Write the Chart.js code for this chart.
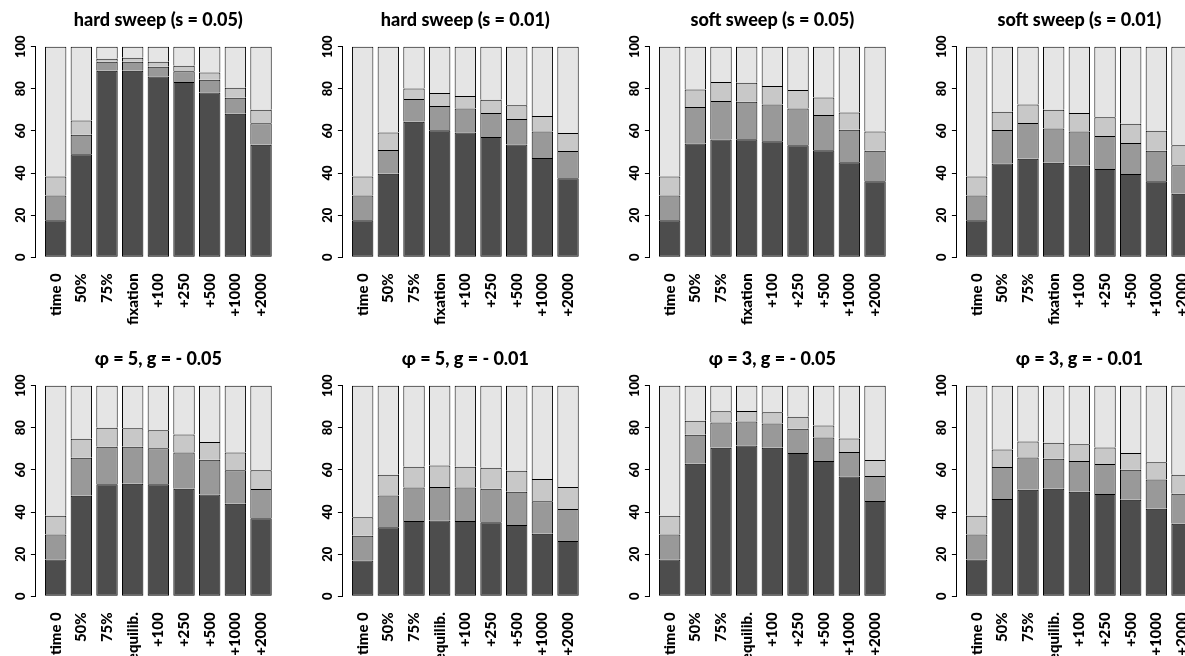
<!DOCTYPE html>
<html lang="en">
<head>
<meta charset="UTF-8">
<title>Sweep barplots</title>
<script src="https://cdn.jsdelivr.net/npm/chart.js"></script>
<style>
  html, body { margin: 0; padding: 0; background: #fff; overflow: hidden; }
  #grid { position: relative; width: 1228px; height: 678px; }
  .panel { position: absolute; width: 307px; height: 339px; }
</style>
</head>
<body>
<div id="grid"></div>
<script>
// category labels
const sweepLabels = ['time 0', '50%', '75%', 'fixation', '+100', '+250', '+500', '+1000', '+2000'];
const equilLabels = ['time 0', '50%', '75%', 'equilib.', '+100', '+250', '+500', '+1000', '+2000'];

const titles = [
  'hard sweep (s = 0.05)', 'hard sweep (s = 0.01)', 'soft sweep (s = 0.05)', 'soft sweep (s = 0.01)',
  'φ = 5, g = - 0.05', 'φ = 5, g = - 0.01', 'φ = 3, g = - 0.05', 'φ = 3, g = - 0.01'
];

const yTicks = [0, 20, 40, 60, 80, 100];

// each panel: [dark, mid, light, rest] segment heights (percent)
const hardSweep05 = [
  [17.6, 48.9, 88.6, 88.6, 85.9, 83.2, 78.3, 68.2, 53.5],
  [11.7, 9.3, 4.3, 4.3, 4.6, 5.1, 6.0, 7.6, 10.1],
  [9.1, 6.7, 1.4, 1.9, 2.4, 2.7, 3.5, 4.7, 6.5],
  [61.6, 35.1, 5.7, 5.2, 7.1, 9.0, 12.2, 19.5, 29.9]
];
const hardSweep01 = [
  [17.6, 39.7, 64.4, 60.3, 59.2, 57.1, 53.6, 47.2, 37.5],
  [11.7, 11.2, 10.8, 11.5, 11.4, 11.4, 12.1, 12.5, 13.0],
  [9.1, 8.3, 5.0, 6.2, 6.0, 6.3, 6.5, 7.4, 8.5],
  [61.6, 40.8, 19.8, 22.0, 23.4, 25.2, 27.8, 32.9, 41.0]
];
const softSweep05 = [
  [17.6, 54.0, 55.9, 56.0, 55.1, 53.2, 50.8, 45.1, 36.1],
  [11.7, 17.4, 18.3, 17.9, 17.4, 17.4, 16.8, 15.5, 14.5],
  [9.1, 8.3, 9.0, 9.0, 8.8, 8.8, 8.3, 8.2, 9.1],
  [61.6, 20.3, 16.8, 17.1, 18.7, 20.6, 24.1, 31.2, 40.3]
];
const softSweep01 = [
  [17.6, 44.5, 46.8, 44.9, 43.5, 41.9, 39.6, 36.1, 30.2],
  [11.7, 15.9, 17.0, 16.2, 16.2, 15.7, 14.7, 14.5, 13.5],
  [9.1, 8.7, 8.7, 9.0, 8.8, 8.9, 9.1, 9.5, 9.5],
  [61.6, 30.9, 27.5, 29.9, 31.5, 33.5, 36.6, 39.9, 46.8]
];
const phi5g05 = [
  [17.5, 47.8, 53.2, 53.5, 53.2, 51.1, 48.3, 44.0, 37.1],
  [11.8, 18.0, 17.8, 17.5, 17.1, 17.2, 16.5, 15.8, 13.8],
  [9.0, 9.0, 9.0, 8.8, 8.6, 8.5, 8.5, 8.5, 8.9],
  [61.7, 25.2, 20.0, 20.2, 21.1, 23.2, 26.7, 31.7, 40.2]
];
const phi5g01 = [
  [17.0, 32.8, 35.8, 36.0, 35.8, 35.2, 33.8, 29.7, 26.2],
  [11.7, 15.1, 15.9, 15.9, 15.9, 15.9, 15.9, 15.4, 15.3],
  [8.8, 9.8, 9.8, 10.2, 9.8, 9.9, 9.9, 10.6, 10.4],
  [62.5, 42.3, 38.5, 37.9, 38.5, 39.0, 40.4, 44.3, 48.1]
];
const phi3g05 = [
  [17.5, 62.9, 70.5, 71.6, 70.5, 68.1, 64.2, 56.9, 45.3],
  [11.8, 13.8, 12.0, 11.4, 11.5, 11.4, 11.2, 11.6, 11.8],
  [9.0, 6.6, 5.4, 5.0, 5.4, 5.7, 5.7, 6.4, 7.6],
  [61.7, 16.7, 12.1, 12.0, 12.6, 14.8, 18.9, 25.1, 35.3]
];
const phi3g01 = [
  [17.5, 46.2, 50.6, 51.1, 49.7, 48.6, 45.9, 41.6, 34.5],
  [11.8, 15.2, 15.3, 14.2, 14.5, 14.2, 14.2, 13.9, 14.2],
  [9.0, 8.3, 7.6, 7.6, 8.0, 7.9, 8.0, 8.1, 9.0],
  [61.7, 30.3, 26.5, 27.1, 27.8, 29.3, 31.9, 36.4, 42.3]
];

const panelValues = [hardSweep05, hardSweep01, softSweep05, softSweep01, phi5g05, phi5g01, phi3g05, phi3g01];
const segmentColors = ['#4d4d4d', '#999999', '#c8c8c8', '#e5e5e5'];

Chart.defaults.font.family = 'Lato, "Open Sans", sans-serif';
Chart.defaults.font.weight = 900;
Chart.defaults.color = '#000';

const grid = document.getElementById('grid');

panelValues.forEach((values, k) => {
  const cats = k < 4 ? sweepLabels : equilLabels;
  const box = document.createElement('div');
  box.className = 'panel';
  box.style.left = (307 * (k % 4)) + 'px';
  box.style.top = (339 * Math.floor(k / 4)) + 'px';
  const canvas = document.createElement('canvas');
  box.appendChild(canvas);
  grid.appendChild(box);

  new Chart(canvas, {
    type: 'bar',
    data: {
      labels: cats.map((_, i) => i),
      datasets: values.map((seg, j) => ({
        data: seg,
        backgroundColor: segmentColors[j],
        borderColor: '#000',
        borderWidth: 1,
        borderSkipped: j === 0 ? false : 'start',
        barPercentage: 1 / 1.2,
        categoryPercentage: 1,
        clip: false
      }))
    },
    options: {
      responsive: true,
      maintainAspectRatio: false,
      animation: false,
      events: [],
      layout: { padding: { left: 0, right: 26.2, top: 0, bottom: 0 } },
      plugins: {
        legend: { display: false },
        tooltip: { enabled: false },
        title: {
          display: true,
          text: titles[k],
          fullSize: false,
          font: { size: 18, weight: 900 },
          padding: { top: 9.5, bottom: 15.6 }
        }
      },
      scales: {
        x: {
          type: 'linear',
          stacked: true,
          offset: false,
          bounds: 'data',
          min: -0.77,
          max: 8.77,
          afterBuildTicks: (s) => { s.ticks = cats.map((_, i) => ({ value: i })); },
          afterFit: (s) => { s.height = 81.7; },
          grid: { display: false },
          border: { display: false },
          ticks: {
            autoSkip: false,
            minRotation: 90,
            maxRotation: 90,
            padding: 8,
            font: { size: 15 },
            callback: (v) => cats[v]
          }
        },
        y: {
          stacked: true,
          min: 0,
          max: 100,
          afterBuildTicks: (s) => { s.ticks = yTicks.map(v => ({ value: v })); },
          afterFit: (s) => { s.width = 35.9; },
          grid: { drawOnChartArea: false, color: '#000', tickLength: 5 },
          border: { color: '#000' },
          ticks: {
            minRotation: 90,
            maxRotation: 90,
            crossAlign: 'center',
            padding: -1.5,
            font: { size: 13 }
          }
        }
      }
    }
  });
});
</script>
</body>
</html>
